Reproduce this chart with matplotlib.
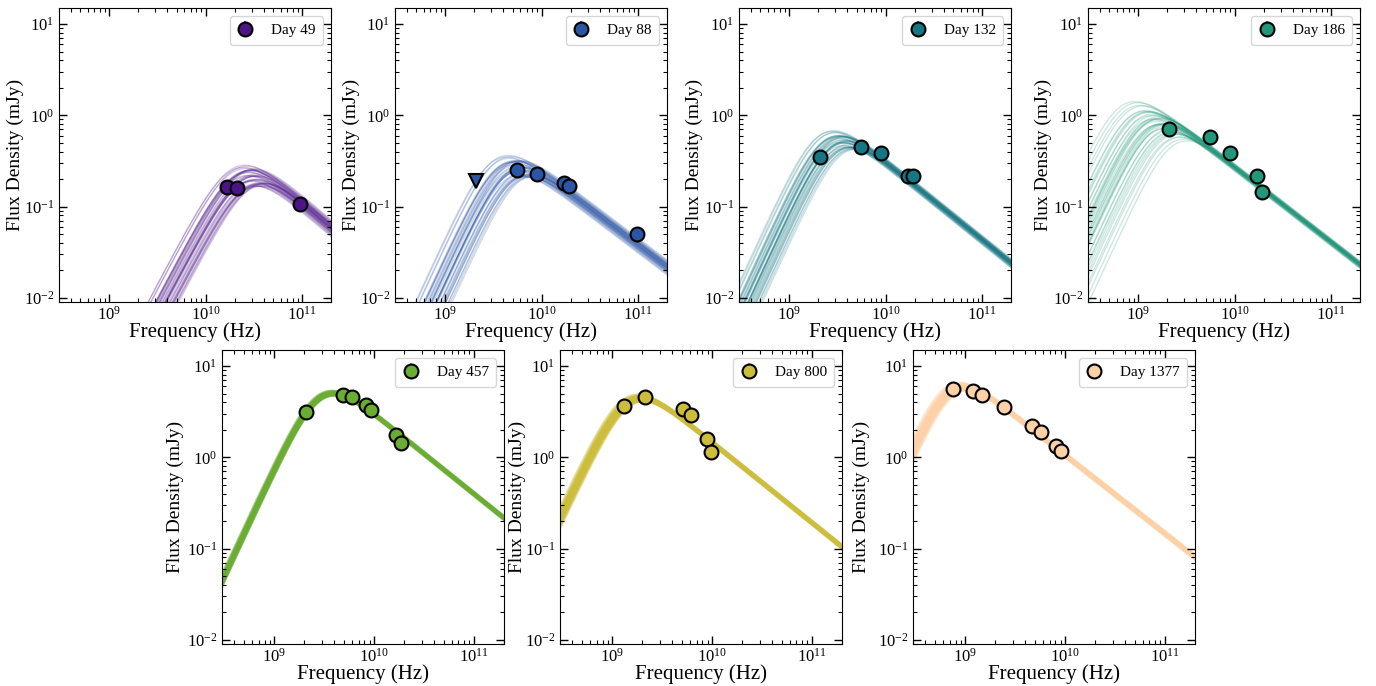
import numpy as np
import matplotlib
matplotlib.use('Agg')
import matplotlib.pyplot as plt

plt.rcParams['font.family'] = 'serif'
plt.rcParams['font.serif'] = ['Liberation Serif', 'DejaVu Serif']
plt.rcParams['mathtext.fontset'] = 'stix'


#######################################################
# Observed points (frequency in Hz, flux density in mJy)

days = [49, 88, 132, 186, 457, 800, 1377]
colors = ['#4b1587', '#2b55a5', '#167683', '#22977a', '#6aad32', '#ccbd3a', '#fcd1a6']

freq_49 = [1.67e10, 2.12e10, 9.5e10]
flux_49 = [0.162, 0.158, 0.106]
err_49 = [0.012, 0.012, 0.015]

freq_88 = [5.5e9, 9.0e9, 1.7e10, 1.9e10, 9.8e10]
flux_88 = [0.249, 0.226, 0.180, 0.166, 0.050]
err_88 = [0.015, 0.015, 0.014, 0.014, 0.010]
lim_freq_88 = [2.1e9]
lim_flux_88 = [0.193]

freq_132 = [2.1e9, 5.5e9, 9.0e9, 1.7e10, 1.9e10]
flux_132 = [0.345, 0.455, 0.385, 0.218, 0.218]
err_132 = [0.05, 0.03, 0.025, 0.015, 0.015]

freq_186 = [2.1e9, 5.5e9, 9.0e9, 1.7e10, 1.9e10]
flux_186 = [0.70, 0.585, 0.385, 0.218, 0.146]
err_186 = [0.06, 0.035, 0.025, 0.018, 0.015]

freq_457 = [2.1e9, 4.9e9, 6.0e9, 8.3e9, 9.3e9, 1.66e10, 1.86e10]
flux_457 = [3.11, 4.82, 4.62, 3.75, 3.33, 1.76, 1.44]
err_457 = [0.2, 0.25, 0.25, 0.2, 0.2, 0.12, 0.1]

freq_800 = [1.32e9, 2.15e9, 5.1e9, 6.2e9, 8.8e9, 9.8e9]
flux_800 = [3.63, 4.55, 3.39, 2.91, 1.59, 1.15]
err_800 = [0.2, 0.25, 0.2, 0.18, 0.1, 0.08]

freq_1377 = [7.6e8, 1.2e9, 1.47e9, 2.45e9, 4.7e9, 5.7e9, 8.1e9, 9.1e9]
flux_1377 = [5.62, 5.30, 4.83, 3.60, 2.22, 1.91, 1.32, 1.18]
err_1377 = [0.3, 0.3, 0.25, 0.2, 0.12, 0.1, 0.08, 0.07]

freqs = [freq_49, freq_88, freq_132, freq_186, freq_457, freq_800, freq_1377]
fluxes = [flux_49, flux_88, flux_132, flux_186, flux_457, flux_800, flux_1377]
errs = [err_49, err_88, err_132, err_186, err_457, err_800, err_1377]


#######################################################
# Fitted broken power law: best values and spread of posterior draws

nu_break = [2.43e10, 4.27e9, 2.70e9, 1.22e9, 2.88e9, 1.44e9, 7.0e8]
f_break = [0.39, 0.469, 0.932, 1.512, 9.02, 8.02, 10.41]
thick_index = [2.0, 2.3, 2.3, 2.3, 2.35, 2.3, 2.5]
thin_index = [-0.9, -0.8, -0.85, -0.82, -0.88, -0.88, -0.86]
spread_nu = [0.055, 0.07, 0.06, 0.13, 0.01, 0.018, 0.022]       # dex
spread_thin = [0.045, 0.04, 0.025, 0.02, 0.01, 0.01, 0.012]     # dex
line_w = [1.0, 1.0, 1.0, 1.0, 2.2, 2.2, 2.2]

# normalised offsets of the drawn samples
draw_u = [0.12, -0.85, 1.34, -0.27, 0.58, -1.62, 0.91, -0.05, -1.18, 0.36,
          1.87, -0.63, 0.21, -0.42, 1.05, -2.05, 0.67, -0.91, 0.03, 1.48,
          -0.33, -1.41, 0.79, 0.44, -0.71, 2.12, -0.18, 0.95, -1.02, 0.29,
          -0.56, 1.21, -1.79, 0.51, 0.08, -0.24, 1.63, -1.27, 0.39, -0.09]
draw_v = [-0.44, 0.73, 0.19, -1.21, 1.02, 0.35, -0.68, 1.56, -0.12, -1.83,
          0.48, 0.91, -0.29, 1.27, -0.97, 0.11, -1.44, 0.63, 2.01, -0.55,
          -0.06, 1.12, 0.27, -1.08, -0.37, 0.82, 1.71, -0.79, 0.04, 0.58,
          -1.59, -0.22, 0.94, 1.38, -0.66, -0.15, 0.31, -1.02, 0.76, -2.1]


def sbpl(nu, nub, fb, a1, a2):
    x = nu / nub
    return fb / (x ** (-a1) + x ** (-a2))


#######################################################
# Layout (pixels of the 1376x686 figure)

W, H = 1376., 686.
lefts = [59, 395, 739, 1088, 222, 560, 913]
widths = [272, 272, 272, 272, 282, 282, 282]
bottoms = [302, 302, 302, 302, 644, 644, 644]
ax_h = 294
ylab_px = [19.5, 355, 698.5, 1047.5, 179.5, 521, 865.5]   # centre of y label
xlab_pad = [-1, -1, -1, -1, -1, -1, -1]

fig = plt.figure(figsize=(13.76, 6.86), dpi=100)

nu_grid = np.logspace(8.4, 11.4, 400)

for i in range(len(days)):
    ax = fig.add_axes([lefts[i] / W, 1 - bottoms[i] / H, widths[i] / W, ax_h / H])
    c = colors[i]

    for u, v in zip(draw_u, draw_v):
        nub = nu_break[i] * 10 ** (spread_nu[i] * u)
        fb = f_break[i] * 10 ** (spread_thin[i] * v) * (nub / nu_break[i]) ** thin_index[i]
        ax.plot(nu_grid, sbpl(nu_grid, nub, fb, thick_index[i], thin_index[i]),
                color=c, alpha=0.22, lw=line_w[i], zorder=1)

    ax.errorbar(freqs[i], fluxes[i], yerr=errs[i], fmt='o', color=c, ecolor=c,
                mec='black', mew=1.5, ms=10, elinewidth=1.2, zorder=3,
                label='Day %d' % days[i])
    if days[i] == 88:
        ax.plot(lim_freq_88, lim_flux_88, 'v', color=c, mec='black', mew=1.5,
                ms=10, zorder=3)

    ax.set_xscale('log')
    ax.set_yscale('log')
    ax.set_xlim(3e8, 2e11)
    ax.set_ylim(9e-3, 15)
    ax.tick_params(which='both', direction='in', top=True, right=True, labelsize=12)
    ax.tick_params(which='major', length=6, width=1)
    ax.tick_params(which='minor', length=3, width=0.8)
    ax.tick_params(axis='x', pad=3)
    ax.set_xlabel('Frequency (Hz)', fontsize=15, labelpad=xlab_pad[i])
    ax.set_ylabel('Flux Density (mJy)', fontsize=14)
    ax.yaxis.set_label_coords((ylab_px[i] + 4.5 - lefts[i]) / widths[i], 0.5)
    ax.legend(loc='upper right', fontsize=11, handlelength=1.0, handletextpad=1.2,
              borderpad=0.5)

plt.savefig('out.png', dpi=100)
